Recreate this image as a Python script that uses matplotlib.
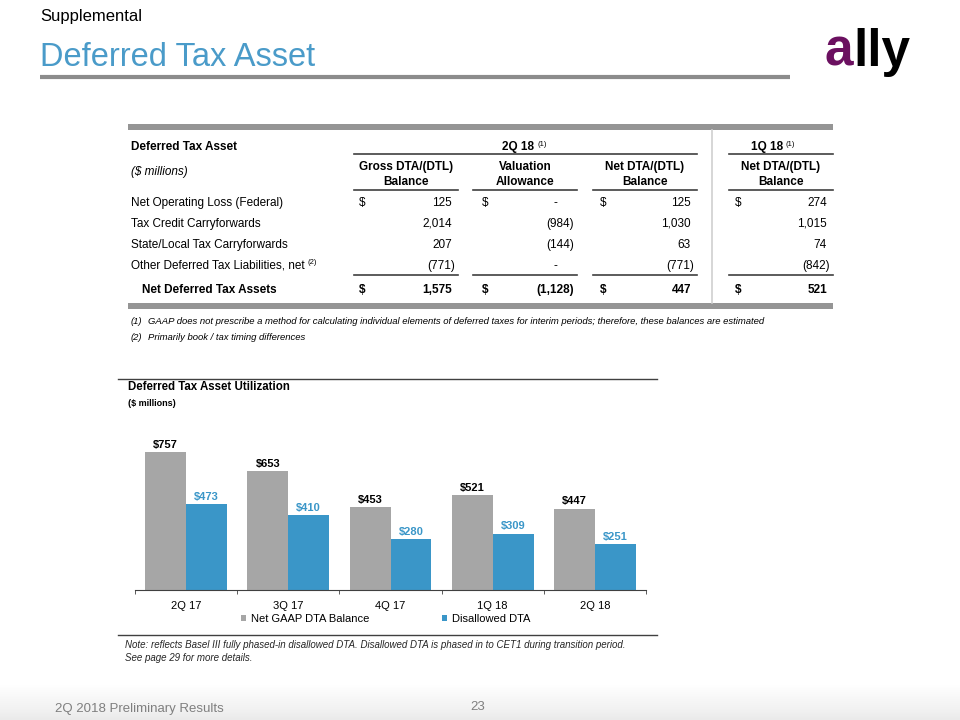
#!/usr/bin/env python3
"""Deferred Tax Asset slide: summary table + DTA utilization bar chart."""
import numpy as np
import matplotlib
matplotlib.use("Agg")
import matplotlib.pyplot as plt
from matplotlib.patches import Rectangle

plt.rcParams["font.family"] = ["Liberation Sans", "DejaVu Sans"]

# ---- table data ($ millions) ----
row_labels = ["Net Operating Loss (Federal)", "Tax Credit Carryforwards",
              "State/Local Tax Carryforwards", "Other Deferred Tax Liabilities, net"]
gross_2q18 = ["125", "2,014", "207", "(771)"]
valuation_2q18 = ["-", "(984)", "(144)", "-"]
net_2q18 = ["125", "1,030", "63", "(771)"]
net_1q18 = ["274", "1,015", "74", "(842)"]
total_label = "Net Deferred Tax Assets"
totals = ["1,575", "(1,128)", "447", "521"]
col_headers = [("Gross DTA/(DTL)", "Balance"), ("Valuation", "Allowance"),
               ("Net DTA/(DTL)", "Balance"), ("Net DTA/(DTL)", "Balance")]

# ---- chart data ($ millions) ----
quarters = ["2Q 17", "3Q 17", "4Q 17", "1Q 18", "2Q 18"]
net_gaap_dta = [757, 653, 453, 521, 447]
disallowed_dta = [473, 410, 280, 309, 251]

GRAY_BAR = "#a6a6a6"
BLUE = "#3a96c8"
TITLE_BLUE = "#4a9bc9"
RULE = "#959595"
DARK = "#404040"

fig = plt.figure(figsize=(9.6, 7.2), dpi=100)
bg = fig.add_axes([0, 0, 1, 1])
bg.set_xlim(0, 960)
bg.set_ylim(720, 0)
bg.axis("off")

# footer gradient (white -> light gray)
grad = np.linspace(0.0, 0.16, 50).reshape(-1, 1)
bg.imshow(grad, extent=[0, 960, 720, 684], cmap="Greys", vmin=0, vmax=1,
          aspect="auto", zorder=0)

# ---- header ----
bg.text(40, 17, "Supplemental", fontsize=12, va="center", color="black")
bg.text(40, 58, "Deferred Tax Asset", fontsize=23.5, va="center", color=TITLE_BLUE)
bg.plot([40, 790], [77, 77], color="#8c8c8c", lw=3, solid_capstyle="butt")
bg.text(824, 66, "a", fontsize=37, fontweight="heavy", color="#6b1060", va="baseline")
bg.text(853, 66, "lly", fontsize=37, fontweight="heavy", color="black", va="baseline")

# ---- table ----
FS = 8.5
bg.add_patch(Rectangle((128, 124), 705, 6, color=RULE, lw=0))
bg.add_patch(Rectangle((128, 303), 705, 6, color=RULE, lw=0))
bg.plot([712, 712], [130, 303], color="#cfcfcf", lw=1.2)

bg.text(131, 147, "Deferred Tax Asset", fontsize=FS, fontweight="bold", va="center")
bg.text(131, 172, "($ millions)", fontsize=FS, style="italic", va="center")
bg.text(534, 147, "2Q 18", fontsize=FS, fontweight="bold", va="center", ha="right")
bg.text(537, 144, "(1)", fontsize=5.5, va="center")
bg.text(783, 147, "1Q 18", fontsize=FS, fontweight="bold", va="center", ha="right")
bg.text(786, 144, "(1)", fontsize=5.5, va="center")
bg.plot([354, 697], [154, 154], color=DARK, lw=1.2)
bg.plot([729, 833], [154, 154], color=DARK, lw=1.2)

col_spans = [(354, 458), (473, 577), (593, 697), (729, 833)]
dollar_x = [359, 482, 600, 735]
for (x0, x1), (h1, h2) in zip(col_spans, col_headers):
    xc = (x0 + x1) / 2
    bg.text(xc, 167, h1, fontsize=FS, fontweight="bold", ha="center", va="center")
    bg.text(xc, 182, h2, fontsize=FS, fontweight="bold", ha="center", va="center")
    bg.plot([x0, x1], [190, 190], color=DARK, lw=1.2)
    bg.plot([x0, x1], [275, 275], color=DARK, lw=1.2)

row_y = [203, 224, 245, 266]
columns = [gross_2q18, valuation_2q18, net_2q18, net_1q18]


def value_x(col_right, s):
    if s == "-":
        return col_right - 17
    if s.startswith("("):
        return col_right
    return col_right - 3


for i, (lab, y) in enumerate(zip(row_labels, row_y)):
    bg.text(131, y, lab, fontsize=FS, va="center")
    for j, (col, (x0, x1)) in enumerate(zip(columns, col_spans)):
        s = col[i]
        bg.text(value_x(x1 - 3, s), y, s, fontsize=FS, ha="right", va="center")
        if i == 0:
            bg.text(dollar_x[j], y, "$", fontsize=FS, va="center")
bg.text(308, 263, "(2)", fontsize=5.5, va="center")

bg.text(142, 290, total_label, fontsize=FS, fontweight="bold", va="center")
for j, (s, (x0, x1)) in enumerate(zip(totals, col_spans)):
    bg.text(value_x(x1 - 3, s), 290, s, fontsize=FS, fontweight="bold",
            ha="right", va="center")
    bg.text(dollar_x[j], 290, "$", fontsize=FS, fontweight="bold", va="center")

bg.text(131, 321, "(1)", fontsize=6.8, style="italic", va="center")
bg.text(148, 321, "GAAP does not prescribe a method for calculating individual elements "
        "of deferred taxes for interim periods; therefore, these balances are estimated",
        fontsize=6.8, style="italic", va="center")
bg.text(131, 337, "(2)", fontsize=6.8, style="italic", va="center")
bg.text(148, 337, "Primarily book / tax timing differences", fontsize=6.8,
        style="italic", va="center")

# ---- chart frame and texts ----
bg.plot([118, 657], [379, 379], color="#404040", lw=1)
bg.plot([118, 657], [635, 635], color="#404040", lw=1)
bg.text(128, 387, "Deferred Tax Asset Utilization", fontsize=8.3, fontweight="bold",
        va="center")
bg.text(128, 403, "($ millions)", fontsize=6.5, fontweight="bold", va="center")
bg.text(125, 645, "Note: reflects Basel III fully phased-in disallowed DTA. Disallowed "
        "DTA is phased in to CET1 during transition period.", fontsize=7,
        style="italic", va="center", color="#262626")
bg.text(125, 658, "See page 29 for more details.", fontsize=7, style="italic",
        va="center", color="#262626")

# ---- footer ----
bg.text(55, 709, "2Q 2018 Preliminary Results", fontsize=9.5, color="#7f7f7f",
        va="center")
bg.text(478, 707, "23", fontsize=9.5, color="#7f7f7f", va="center", ha="center")

# ---- bar chart ----
base_px, top_px = 590, 430
ax = fig.add_axes([135 / 960, (720 - base_px) / 720, 511 / 960,
                   (base_px - top_px) / 720])
px_per_unit = (590 - 452) / 757
ax.set_ylim(0, (base_px - top_px) / px_per_unit)
x = np.arange(len(quarters))
w = 0.4
b1 = ax.bar(x - w / 2, net_gaap_dta, w, color=GRAY_BAR, label="Net GAAP DTA Balance")
b2 = ax.bar(x + w / 2, disallowed_dta, w, color=BLUE, label="Disallowed DTA")
for xi, v in zip(x, net_gaap_dta):
    ax.text(xi - w / 2, v + 12, f"${v}", ha="center", va="bottom", fontsize=8,
            fontweight="bold", color="black")
for xi, v in zip(x, disallowed_dta):
    ax.text(xi + w / 2, v + 12, f"${v}", ha="center", va="bottom", fontsize=8,
            fontweight="bold", color=BLUE)

ax.set_xlim(-0.5, len(quarters) - 0.5)
for side in ("top", "right", "left"):
    ax.spines[side].set_visible(False)
ax.spines["bottom"].set_color("#404040")
ax.set_yticks([])
ax.set_xticks(x)
ax.set_xticklabels(quarters, fontsize=8)
ax.tick_params(axis="x", which="major", length=0, pad=8)
ax.set_xticks(np.arange(-0.5, len(quarters)), minor=True)
ax.tick_params(axis="x", which="minor", length=3, direction="out", color="#404040")
ax.patch.set_alpha(0)

ax.legend(handles=[b1, b2], loc="center", bbox_to_anchor=(0.49, -0.18), ncol=2,
          frameon=False, fontsize=8, handlelength=0.5, handleheight=0.5,
          handletextpad=0.4, columnspacing=6.5)

fig.savefig("out.png", dpi=100)
